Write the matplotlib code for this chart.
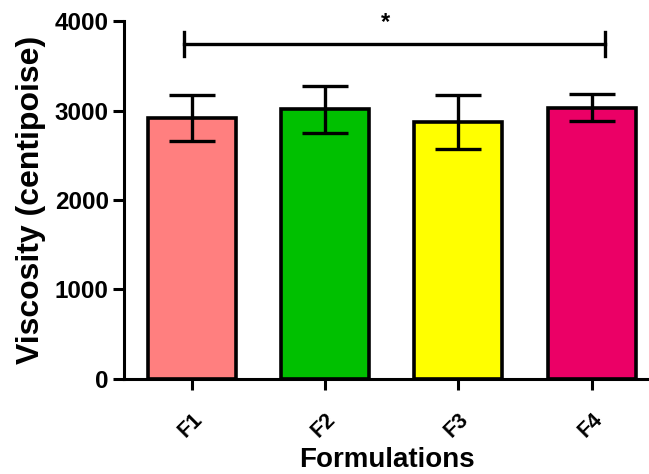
import matplotlib
matplotlib.use("Agg")
import matplotlib.pyplot as plt
import numpy as np

# viscosity of each formulation
formulations = ["F1", "F2", "F3", "F4"]
viscosity = [2915, 3015, 2870, 3035]
sd = [258, 262, 302, 152]
colors = ["#FF7F7F", "#00C000", "#FFFF00", "#EB0066"]

# significance bracket (F1 vs F4), drawn a bit off the bar centres as in the original
sig_x = [-0.06, 3.1]
sig_y = 3745
sig_label = "*"

plt.rcParams['font.family'] = ['Liberation Sans', 'DejaVu Sans']
plt.rcParams['font.weight'] = 'bold'

fig = plt.figure(figsize=(6.49, 4.74), dpi=100)
ax = fig.add_axes([0.191, 0.2013, 0.809, 0.7536])

x = np.arange(len(formulations))
ax.bar(x, viscosity, width=0.66, color=colors, edgecolor="black", linewidth=2.6, zorder=2)
ax.errorbar(x, viscosity, yerr=sd, fmt="none", ecolor="black", elinewidth=2.4,
            capsize=16.5, capthick=2.4, zorder=3)

ax.plot(sig_x, [sig_y, sig_y], color="black", lw=2.4, clip_on=False)
for sx in sig_x:
    ax.plot([sx, sx], [sig_y - 135, sig_y + 135], color="black", lw=2.4, clip_on=False)
ax.text(1.45, 3990, sig_label, ha="center", va="center",
        fontsize=17, fontweight="bold", clip_on=False)

ax.set_xlim(-0.51, 3.43)
ax.set_ylim(0, 4000)
ax.set_yticks([0, 1000, 2000, 3000, 4000])
ax.set_xticks(x)
ax.set_xticklabels(formulations, rotation=45, ha="right", va="top", rotation_mode="anchor")

for s in ["top", "right"]:
    ax.spines[s].set_visible(False)
for s in ["left", "bottom"]:
    ax.spines[s].set_linewidth(2.2)

ax.tick_params(axis="y", length=8, width=2.2, labelsize=17.5, pad=3)
ax.tick_params(axis="x", length=8, width=2.2, labelsize=15.5, pad=14)
for lab in ax.get_xticklabels() + ax.get_yticklabels():
    lab.set_fontweight("bold")

ax.set_ylabel("Viscosity (centipoise)", fontsize=23, fontweight="bold", labelpad=6)
ax.set_xlabel("Formulations", fontsize=20, fontweight="bold", labelpad=4)

fig.savefig("out.png", dpi=100)
